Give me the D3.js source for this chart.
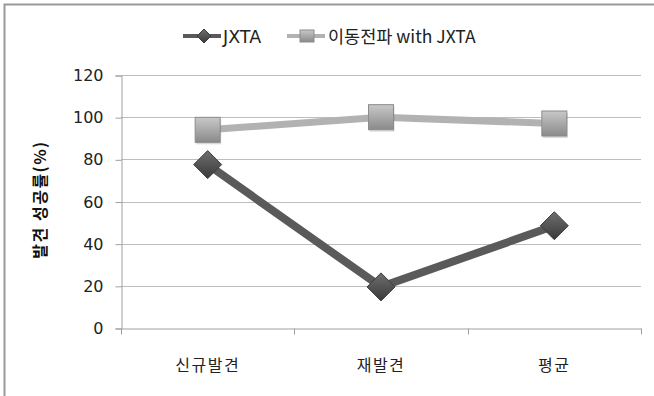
<!DOCTYPE html>
<html>
<head>
<meta charset="utf-8">
<script src="https://cdn.jsdelivr.net/npm/d3@7"></script>
<style>
  body { margin: 0; background: #fff; }
  text { font-family: "Noto Sans CJK KR", "DejaVu Sans", sans-serif; }
</style>
</head>
<body>
<div id="chart"></div>
<script>
var categories = ["신규발견", "재발견", "평균"];
var jxta = [77.5, 19.5, 48.5];
var mobileJxta = [94, 100, 97];
var yTicks = [0, 20, 40, 60, 80, 100, 120];
var seriesNames = ["JXTA", "이동전파 with JXTA"];

(function () {
    var width = 654, height = 396;
    var left = 121, right = 641, top = 75, bottom = 328;

    var svg = d3.select("#chart").append("svg")
        .attr("width", width)
        .attr("height", height);

    var defs = svg.append("defs");
    var gSq = defs.append("linearGradient").attr("id", "sq").attr("x1", 0).attr("y1", 0).attr("x2", 0).attr("y2", 1);
    gSq.append("stop").attr("offset", "0%").attr("stop-color", "#c8c8c8");
    gSq.append("stop").attr("offset", "100%").attr("stop-color", "#8a8a8a");
    var gDm = defs.append("linearGradient").attr("id", "dm").attr("x1", 0).attr("y1", 0).attr("x2", 0).attr("y2", 1);
    gDm.append("stop").attr("offset", "0%").attr("stop-color", "#6e6e6e");
    gDm.append("stop").attr("offset", "100%").attr("stop-color", "#3a3a3a");

    // outer frame
    svg.append("path")
        .attr("d", "M4.5," + height + "V4.5H" + width)
        .attr("fill", "none")
        .attr("stroke", "#999")
        .attr("stroke-width", 2);

    var x = d3.scaleBand().domain(categories).range([left, right]);
    var y = d3.scaleLinear().domain([0, 120]).range([bottom, top]);

    // gridlines
    svg.append("g")
        .selectAll("line")
        .data(yTicks.filter(d => d > 0))
        .join("line")
        .attr("x1", left).attr("x2", right)
        .attr("y1", d => Math.round(y(d)) + 0.5)
        .attr("y2", d => Math.round(y(d)) + 0.5)
        .attr("stroke", "#bdbdbd");

    // y axis
    var yAxis = svg.append("g")
        .attr("transform", "translate(" + (left + 0.5) + ",0.5)")
        .call(d3.axisLeft(y).tickValues(yTicks).tickSize(6).tickPadding(12));
    yAxis.select(".domain").attr("stroke", "#a0a0a0");
    yAxis.selectAll(".tick line").attr("stroke", "#a0a0a0");
    yAxis.selectAll(".tick text")
        .attr("font-size", 16).attr("fill", "#222")
        .style("font-family", "'DejaVu Sans', sans-serif");

    // x axis
    var xAxis = svg.append("g")
        .attr("transform", "translate(0," + (Math.round(bottom) + 0.5) + ")")
        .call(d3.axisBottom(x).tickSize(0).tickPadding(31));
    xAxis.select(".domain").attr("stroke", "#a0a0a0");
    xAxis.selectAll(".tick text")
        .attr("font-size", 16).attr("fill", "#222")
        .attr("letter-spacing", 1.5);
    xAxis.append("g")
        .selectAll("line")
        .data(categories.concat(["end"]))
        .join("line")
        .attr("x1", (d, i) => Math.round(left + i * x.bandwidth()) + 0.5)
        .attr("x2", (d, i) => Math.round(left + i * x.bandwidth()) + 0.5)
        .attr("y1", 0).attr("y2", 6)
        .attr("stroke", "#a0a0a0");

    // y label
    svg.append("text")
        .attr("transform", "translate(46," + ((top + bottom) / 2 - 2) + ") rotate(-90)")
        .attr("text-anchor", "middle")
        .attr("font-size", 16)
        .attr("font-weight", "bold")
        .attr("letter-spacing", 1.5)
        .attr("fill", "#111")
        .text("발견 성공률(%)");

    var cx = d => x(d) + x.bandwidth() / 2;
    var line = d3.line().x(d => cx(d.c)).y(d => y(d.v));

    var lightData = categories.map((c, i) => ({ c: c, v: mobileJxta[i] }));
    var darkData = categories.map((c, i) => ({ c: c, v: jxta[i] }));

    svg.append("path").datum(lightData)
        .attr("d", line).attr("fill", "none")
        .attr("stroke", "#b2b2b2").attr("stroke-width", 7);

    svg.append("path").datum(darkData)
        .attr("d", line).attr("fill", "none")
        .attr("stroke", "#5a5a5a").attr("stroke-width", 8);

    function square(g, px, py, s) {
        g.append("rect")
            .attr("x", px - s / 2 + 1).attr("y", py - s / 2 + 2)
            .attr("width", s).attr("height", s)
            .attr("fill", "#000").attr("opacity", 0.15);
        g.append("rect")
            .attr("x", px - s / 2).attr("y", py - s / 2)
            .attr("width", s).attr("height", s)
            .attr("fill", "url(#sq)").attr("stroke", "#8c8c8c");
    }
    function diamond(g, px, py, r) {
        g.append("path")
            .attr("d", "M" + px + "," + (py - r) + "L" + (px + r) + "," + py + "L" + px + "," + (py + r) + "L" + (px - r) + "," + py + "Z")
            .attr("fill", "url(#dm)").attr("stroke", "#3c3c3c");
    }

    var marks = svg.append("g");
    lightData.forEach(d => square(marks, cx(d.c), y(d.v), 25));
    darkData.forEach(d => diamond(marks, cx(d.c), y(d.v), 14));

    // legend
    var lg = svg.append("g");
    lg.append("line").attr("x1", 183).attr("x2", 221).attr("y1", 36).attr("y2", 36)
        .attr("stroke", "#5a5a5a").attr("stroke-width", 4);
    diamond(lg, 204, 36, 7);
    lg.append("text").attr("x", 223).attr("y", 43).attr("font-size", 17.5).attr("fill", "#222")
        .style("font-family", "'DejaVu Sans', sans-serif").text(seriesNames[0]);
    lg.append("line").attr("x1", 287).attr("x2", 325).attr("y1", 36).attr("y2", 36)
        .attr("stroke", "#b2b2b2").attr("stroke-width", 4);
    lg.append("rect").attr("x", 300).attr("y", 30).attr("width", 14).attr("height", 12)
        .attr("fill", "url(#sq)").attr("stroke", "#8c8c8c");
    lg.append("text").attr("x", 328).attr("y", 43).attr("font-size", 17.5).attr("fill", "#222")
        .text(seriesNames[1]);
})();
</script>
</body>
</html>
